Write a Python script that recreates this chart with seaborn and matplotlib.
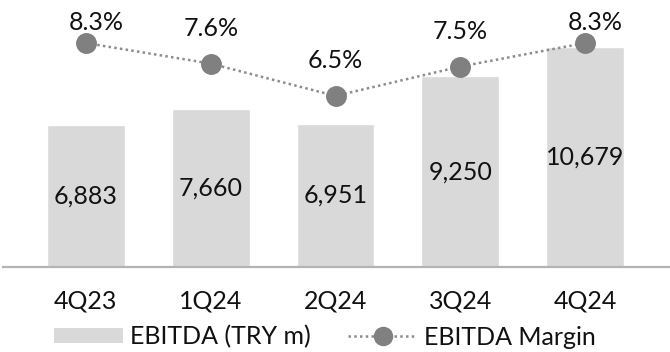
import matplotlib
matplotlib.use("Agg")
import matplotlib.pyplot as plt
import seaborn as sns
import pandas as pd
from matplotlib.patches import Patch
from matplotlib.lines import Line2D

quarters = ["4Q23", "1Q24", "2Q24", "3Q24", "4Q24"]
ebitda = [6883, 7660, 6951, 9250, 10679]
margin = [8.3, 7.6, 6.5, 7.5, 8.3]

bar_label = "EBITDA (TRY m)"
line_label = "EBITDA Margin"

BAR_COLOR = "#d9d9d9"
LINE_COLOR = "#8c8c8c"
MARKER_COLOR = "#808080"
TEXT_COLOR = "#111111"
FS = 18

sns.set_theme(style="white")
plt.rcParams["font.family"] = ["Lato", "DejaVu Sans"]

df = pd.DataFrame({"quarter": quarters, "ebitda": ebitda, "margin": margin})

W, H = 670, 352
fig = plt.figure(figsize=(W / 100, H / 100), dpi=100)
ax = fig.add_axes([3 / W, 1 - 267 / H, 667 / W, 267 / H])

sns.barplot(data=df, x="quarter", y="ebitda", color=BAR_COLOR, saturation=1,
            width=0.624, ax=ax)

ax2 = ax.twinx()
sns.pointplot(data=df, x="quarter", y="margin", color=LINE_COLOR, errorbar=None,
              markers="o", linestyles=":", ax=ax2)
for ln in ax2.lines:
    ln.set_linewidth(1.8)
    ln.set_dashes((1.0, 1.3))
    ln.set_markersize(13)
    ln.set_markerfacecolor(MARKER_COLOR)
    ln.set_markeredgecolor(MARKER_COLOR)
for coll in ax2.collections:
    coll.set_visible(False)
ax2.plot(range(len(quarters)), margin, linestyle="none", marker="o",
         markersize=13, color=MARKER_COLOR, zorder=5)

ax.set_xlim(-0.664, 4.68)
ax.set_ylim(0, 12960)
ax2.set_ylim(0.681, 9.763)

# value labels in the middle of each bar
for i, v in enumerate(ebitda):
    ax.text(i, v / 2, f"{v:,}", ha="center", va="center", fontsize=FS,
            color=TEXT_COLOR)

# margin labels above each point, kept inside the top of the plot
for i, m in enumerate(margin):
    px, py = ax2.transData.transform((i, m))
    ty = py + 35
    dx = 0
    top = fig.bbox.height - 22
    if ty > top:
        ty = top
        dx = 10
    xd, yd = ax2.transData.inverted().transform((px + dx, ty))
    ax2.text(xd, yd, f"{m}%", ha="center", va="center", fontsize=FS,
             color=TEXT_COLOR)

for a in (ax, ax2):
    a.set_xlabel("")
    a.set_ylabel("")
    a.set_yticks([])
    for s in a.spines.values():
        s.set_visible(False)
ax.spines["bottom"].set_visible(True)
ax.spines["bottom"].set_color("#b3b3b3")
ax.spines["bottom"].set_linewidth(1.6)
ax.tick_params(axis="x", length=0, pad=16, labelsize=FS, labelcolor=TEXT_COLOR)
ax2.tick_params(axis="x", length=0)

handles = [
    Patch(facecolor=BAR_COLOR, edgecolor="none", label=bar_label),
    Line2D([0], [0], color=LINE_COLOR, linewidth=1.8, dashes=(1.0, 1.3),
           marker="o", markersize=13, markerfacecolor=MARKER_COLOR,
           markeredgecolor=MARKER_COLOR, label=line_label),
]
fig.legend(handles=handles, loc="center", bbox_to_anchor=(325 / W, 1 - 337 / H),
           ncol=2, frameon=False, fontsize=FS, handlelength=2.75,
           handleheight=0.55, handletextpad=0.3, columnspacing=1.5,
           labelcolor=TEXT_COLOR, borderaxespad=0, borderpad=0)

fig.savefig("out.png", dpi=100)
